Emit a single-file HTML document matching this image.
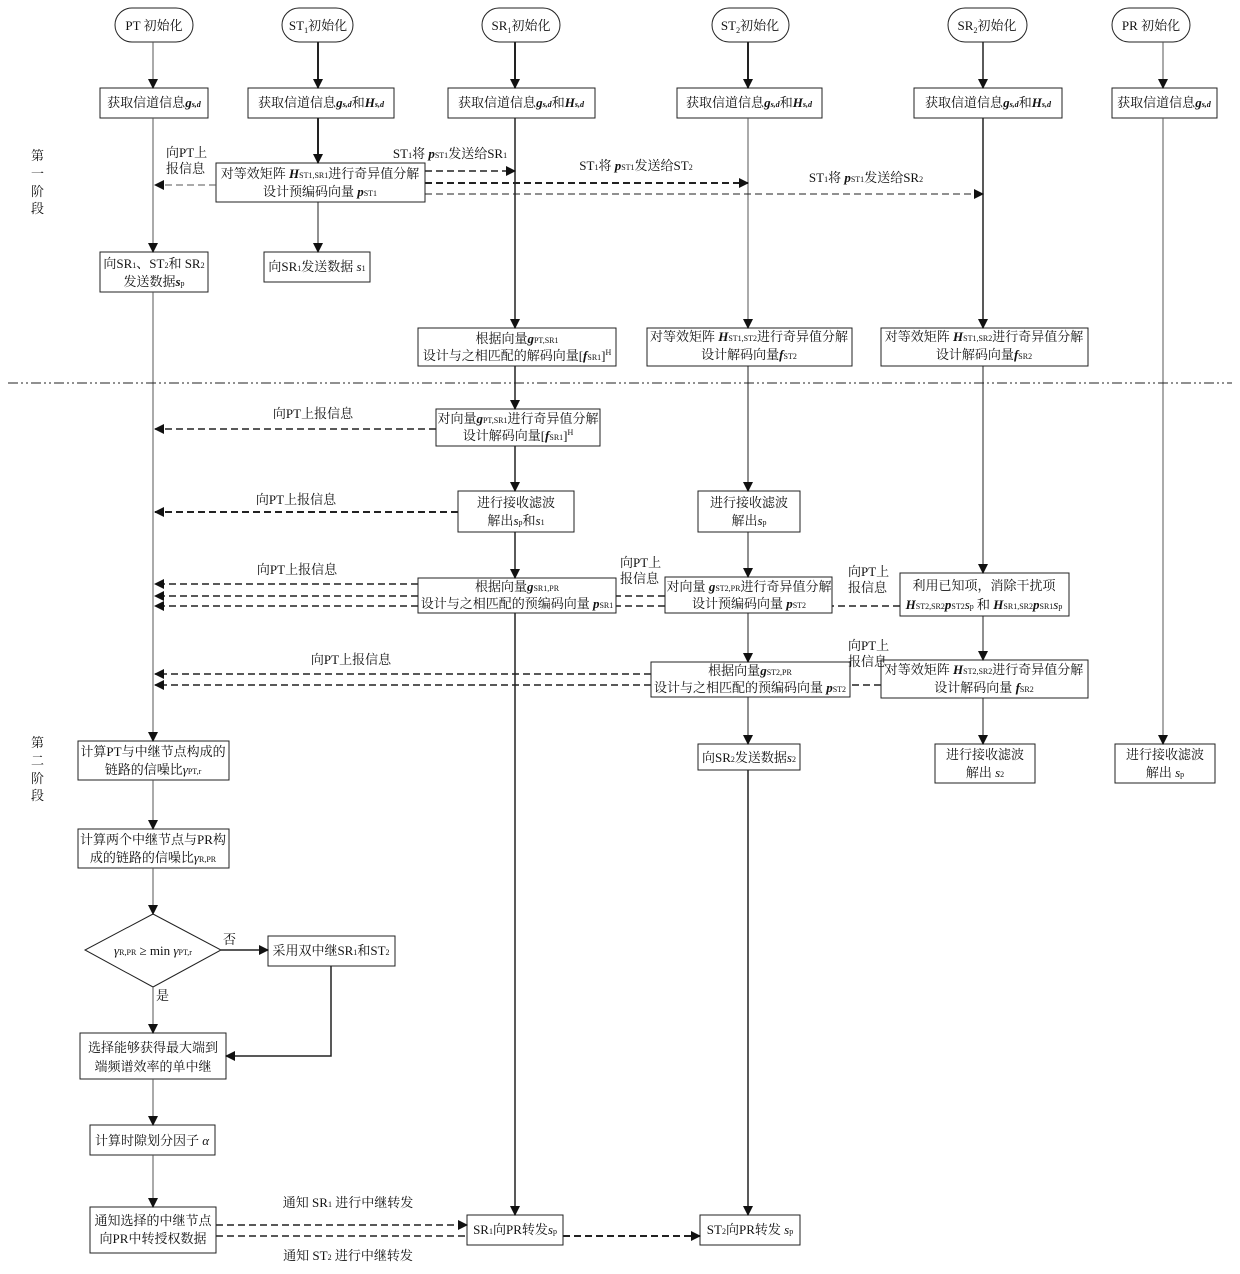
<!DOCTYPE html>
<html><head><meta charset="utf-8"><style>
html,body{margin:0;padding:0;background:#fff}
svg{display:block}
text{font-family:"Liberation Serif","Noto Serif CJK SC","Noto Sans CJK SC",serif;font-size:13px;fill:#111}
.i{font-style:italic;font-weight:bold}
.s{font-size:8px}
</style></head><body>
<svg width="1240" height="1274" viewBox="0 0 1240 1274" xmlns="http://www.w3.org/2000/svg">
<defs>
<marker id="a" markerWidth="10" markerHeight="10" refX="9" refY="5" orient="auto" markerUnits="userSpaceOnUse"><path d="M0,0 L10,5 L0,10 z" fill="#111"/></marker>
</defs>
<g fill="none" stroke="#222" stroke-width="1">
<!-- ovals -->
<rect x="115" y="8" width="78" height="34" rx="17"/>
<rect x="282" y="8" width="71" height="34" rx="17"/>
<rect x="482" y="8" width="78" height="34" rx="17"/>
<rect x="712" y="8" width="77" height="34" rx="17"/>
<rect x="948" y="8" width="79" height="34" rx="17"/>
<rect x="1112" y="8" width="78" height="34" rx="17"/>
<!-- row2 -->
<rect x="100" y="88" width="108" height="30"/>
<rect x="248" y="88" width="146" height="30"/>
<rect x="448" y="88" width="147" height="30"/>
<rect x="677" y="88" width="145" height="30"/>
<rect x="914" y="88" width="148" height="30"/>
<rect x="1112" y="88" width="105" height="30"/>
<rect x="216" y="163" width="209" height="39"/>
<rect x="100" y="252" width="108" height="40"/>
<rect x="264" y="252" width="106" height="30"/>
<rect x="418" y="328" width="198" height="38"/>
<rect x="647" y="328" width="205" height="38"/>
<rect x="881" y="328" width="207" height="38"/>
<rect x="436" y="409" width="164" height="37"/>
<rect x="458" y="491" width="116" height="41"/>
<rect x="698" y="491" width="102" height="41"/>
<rect x="418" y="578" width="198" height="35"/>
<rect x="665" y="577" width="167" height="36"/>
<rect x="900" y="573" width="169" height="43"/>
<rect x="651" y="662" width="199" height="35"/>
<rect x="881" y="660" width="207" height="38"/>
<rect x="698" y="744" width="102" height="26"/>
<rect x="935" y="744" width="100" height="39"/>
<rect x="1115" y="744" width="100" height="39"/>
<rect x="78" y="741" width="151" height="39"/>
<rect x="78" y="829" width="151" height="39"/>
<path d="M153,914 L221,950 L153,987 L85,950 Z"/>
<rect x="268" y="936" width="127" height="30"/>
<rect x="80" y="1033" width="146" height="46"/>
<rect x="90" y="1125" width="125" height="30"/>
<rect x="90" y="1207" width="126" height="46"/>
<rect x="467" y="1215" width="96" height="30"/>
<rect x="700" y="1215" width="100" height="30"/>
</g>
<!-- solid lane arrows -->
<g stroke="#222" fill="none" marker-end="url(#a)">
<path d="M153,42V88" stroke="#555"/>
<path d="M318,42V88" stroke-width="2"/>
<path d="M515,42V88" stroke-width="2"/>
<path d="M748,42V88" stroke-width="2"/>
<path d="M983,42V88" stroke-width="1.5"/>
<path d="M1163,42V88" stroke="#555"/>
<path d="M153,118V252" stroke="#555"/>
<path d="M318,118V163" stroke-width="2"/>
<path d="M318,202V252"/>
<path d="M515,118V328" stroke-width="1.5"/>
<path d="M748,118V328" stroke="#555"/>
<path d="M983,118V328" stroke-width="1.5"/>
<path d="M515,366V409" stroke-width="1.5"/>
<path d="M515,446V491" stroke-width="1.5"/>
<path d="M748,366V491"/>
<path d="M515,532V578" stroke-width="1.5"/>
<path d="M748,532V577"/>
<path d="M983,366V573"/>
<path d="M748,613V662"/>
<path d="M983,616V660"/>
<path d="M748,697V744"/>
<path d="M983,698V744"/>
<path d="M1163,118V744" stroke="#555"/>
<path d="M153,292V741" stroke="#555"/>
<path d="M153,780V829" stroke="#555"/>
<path d="M153,868V914" stroke="#555"/>
<path d="M221,950H268" stroke-width="1.5"/>
<path d="M153,987V1033" stroke="#555"/>
<path d="M331,966V1056H226" stroke-width="1.5"/>
<path d="M153,1079V1125" stroke="#555"/>
<path d="M153,1155V1207" stroke="#555"/>
<path d="M515,613V1215" stroke-width="1.5"/>
<path d="M748,770V1215" stroke-width="1.5"/>
</g>
<!-- dashed arrows -->
<g stroke="#222" fill="none" stroke-dasharray="7,4" marker-end="url(#a)">
<path d="M216,185H155" stroke="#555"/>
<path d="M425,171H515" stroke-width="1.5"/>
<path d="M425,183H748" stroke-width="2"/>
<path d="M425,194H983"/>
<path d="M436,429H155" stroke-width="1.5"/>
<path d="M458,512H155" stroke-width="2"/>
<path d="M418,584H155" stroke-width="1.5"/>
<path d="M418,596H155" stroke-width="1.5"/>
<path d="M418,606H155" stroke-width="1.5"/>
<path d="M651,674H155" stroke-width="1.5"/>
<path d="M651,685H155" stroke-width="1.5"/>
<path d="M216,1225H467" stroke-width="1.5"/>
<path d="M563,1236H700" stroke-width="2"/>
</g>
<g stroke="#222" fill="none" stroke-dasharray="7,4" stroke-width="1.5">
<path d="M665,596H616"/><path d="M665,606H616"/>
<path d="M900,606H832"/>
<path d="M881,685H850"/>
<path d="M216,1236H467"/>
</g>
<path d="M8,383H1232" stroke="#222" stroke-dasharray="10,3,2,3,2,3"/>
<!-- text -->
<g text-anchor="middle">
<text x="154" y="30">PT 初始化</text>
<text x="318" y="30">ST<tspan class="s" dy="3">1</tspan><tspan dy="-3">初始化</tspan></text>
<text x="521" y="30">SR<tspan class="s" dy="3">1</tspan><tspan dy="-3">初始化</tspan></text>
<text x="750" y="30">ST<tspan class="s" dy="3">2</tspan><tspan dy="-3">初始化</tspan></text>
<text x="987" y="30">SR<tspan class="s" dy="3">2</tspan><tspan dy="-3">初始化</tspan></text>
<text x="1151" y="30">PR 初始化</text>
<text x="154" y="107">获取信道信息<tspan class="i">g<tspan class="s">s,d</tspan></tspan></text>
<text x="321" y="107">获取信道信息<tspan class="i">g<tspan class="s">s,d</tspan></tspan>和<tspan class="i">H<tspan class="s">s,d</tspan></tspan></text>
<text x="521" y="107">获取信道信息<tspan class="i">g<tspan class="s">s,d</tspan></tspan>和<tspan class="i">H<tspan class="s">s,d</tspan></tspan></text>
<text x="749" y="107">获取信道信息<tspan class="i">g<tspan class="s">s,d</tspan></tspan>和<tspan class="i">H<tspan class="s">s,d</tspan></tspan></text>
<text x="988" y="107">获取信道信息<tspan class="i">g<tspan class="s">s,d</tspan></tspan>和<tspan class="i">H<tspan class="s">s,d</tspan></tspan></text>
<text x="1164" y="107">获取信道信息<tspan class="i">g<tspan class="s">s,d</tspan></tspan></text>
<text x="320" y="178">对等效矩阵 <tspan class="i">H</tspan><tspan class="s">ST1,SR1</tspan>进行奇异值分解</text>
<text x="320" y="196">设计预编码向量 <tspan class="i">p</tspan><tspan class="s">ST1</tspan></text>
<text x="154" y="268">向SR<tspan class="s">1</tspan>、ST<tspan class="s">2</tspan>和 SR<tspan class="s">2</tspan></text>
<text x="154" y="286">发送数据<tspan class="i">s</tspan><tspan class="s">p</tspan></text>
<text x="317" y="271">向SR<tspan class="s">1</tspan>发送数据 <tspan font-style="italic">s</tspan><tspan class="s">1</tspan></text>
<text x="517" y="343">根据向量<tspan class="i">g</tspan><tspan class="s">PT,SR1</tspan></text>
<text x="517" y="360">设计与之相匹配的解码向量[<tspan class="i">f</tspan><tspan class="s">SR1</tspan>]<tspan class="s" dy="-5">H</tspan></text>
<text x="749" y="341">对等效矩阵 <tspan class="i">H</tspan><tspan class="s">ST1,ST2</tspan>进行奇异值分解</text>
<text x="749" y="359">设计解码向量<tspan class="i">f</tspan><tspan class="s">ST2</tspan></text>
<text x="984" y="341">对等效矩阵 <tspan class="i">H</tspan><tspan class="s">ST1,SR2</tspan>进行奇异值分解</text>
<text x="984" y="359">设计解码向量<tspan class="i">f</tspan><tspan class="s">SR2</tspan></text>
<text x="518" y="423">对向量<tspan class="i">g</tspan><tspan class="s">PT,SR1</tspan>进行奇异值分解</text>
<text x="518" y="440">设计解码向量[<tspan class="i">f</tspan><tspan class="s">SR1</tspan>]<tspan class="s" dy="-5">H</tspan></text>
<text x="516" y="507">进行接收滤波</text>
<text x="516" y="525">解出<tspan font-style="italic">s</tspan><tspan class="s">p</tspan>和<tspan font-style="italic">s</tspan><tspan class="s">1</tspan></text>
<text x="749" y="507">进行接收滤波</text>
<text x="749" y="525">解出<tspan font-style="italic">s</tspan><tspan class="s">p</tspan></text>
<text x="517" y="591">根据向量<tspan class="i">g</tspan><tspan class="s">SR1,PR</tspan></text>
<text x="517" y="608">设计与之相匹配的预编码向量 <tspan class="i">p</tspan><tspan class="s">SR1</tspan></text>
<text x="749" y="591">对向量 <tspan class="i">g</tspan><tspan class="s">ST2,PR</tspan>进行奇异值分解</text>
<text x="749" y="608">设计预编码向量 <tspan class="i">p</tspan><tspan class="s">ST2</tspan></text>
<text x="984" y="590">利用已知项，消除干扰项</text>
<text x="984" y="609"><tspan class="i">H</tspan><tspan class="s">ST2,SR2</tspan><tspan class="i">p</tspan><tspan class="s">ST2</tspan><tspan font-style="italic">s</tspan><tspan class="s">p</tspan> 和 <tspan class="i">H</tspan><tspan class="s">SR1,SR2</tspan><tspan class="i">p</tspan><tspan class="s">SR1</tspan><tspan font-style="italic">s</tspan><tspan class="s">p</tspan></text>
<text x="750" y="675">根据向量<tspan class="i">g</tspan><tspan class="s">ST2,PR</tspan></text>
<text x="750" y="692">设计与之相匹配的预编码向量 <tspan class="i">p</tspan><tspan class="s">ST2</tspan></text>
<text x="984" y="674">对等效矩阵 <tspan class="i">H</tspan><tspan class="s">ST2,SR2</tspan>进行奇异值分解</text>
<text x="984" y="692">设计解码向量 <tspan class="i">f</tspan><tspan class="s">SR2</tspan></text>
<text x="749" y="762">向SR<tspan class="s">2</tspan>发送数据<tspan font-style="italic">s</tspan><tspan class="s">2</tspan></text>
<text x="985" y="759">进行接收滤波</text>
<text x="985" y="777">解出 <tspan font-style="italic">s</tspan><tspan class="s">2</tspan></text>
<text x="1165" y="759">进行接收滤波</text>
<text x="1165" y="777">解出 <tspan font-style="italic">s</tspan><tspan class="s">p</tspan></text>
<text x="153" y="756">计算PT与中继节点构成的</text>
<text x="153" y="774">链路的信噪比<tspan font-style="italic">γ</tspan><tspan class="s">PT,r</tspan></text>
<text x="153" y="844">计算两个中继节点与PR构</text>
<text x="153" y="862">成的链路的信噪比<tspan font-style="italic">γ</tspan><tspan class="s">R,PR</tspan></text>
<text x="153" y="955"><tspan font-style="italic">γ</tspan><tspan class="s">R,PR</tspan> ≥ min <tspan font-style="italic">γ</tspan><tspan class="s">PT,r</tspan></text>
<text x="331" y="955">采用双中继SR<tspan class="s">1</tspan>和ST<tspan class="s">2</tspan></text>
<text x="153" y="1052">选择能够获得最大端到</text>
<text x="153" y="1071">端频谱效率的单中继</text>
<text x="152" y="1145">计算时隙划分因子 <tspan font-style="italic">α</tspan></text>
<text x="153" y="1225">通知选择的中继节点</text>
<text x="153" y="1243">向PR中转授权数据</text>
<text x="515" y="1234">SR<tspan class="s">1</tspan>向PR转发<tspan font-style="italic">s</tspan><tspan class="s">p</tspan></text>
<text x="750" y="1234">ST<tspan class="s">2</tspan>向PR转发 <tspan font-style="italic">s</tspan><tspan class="s">p</tspan></text>
<text x="313" y="418">向PT上报信息</text>
<text x="296" y="504">向PT上报信息</text>
<text x="297" y="574">向PT上报信息</text>
<text x="351" y="664">向PT上报信息</text>
<text x="348" y="1207">通知 SR<tspan class="s">1</tspan> 进行中继转发</text>
<text x="348" y="1260">通知 ST<tspan class="s">2</tspan> 进行中继转发</text>
<text x="450" y="158">ST<tspan class="s">1</tspan>将 <tspan class="i">p</tspan><tspan class="s">ST1</tspan>发送给SR<tspan class="s">1</tspan></text>
<text x="636" y="170">ST<tspan class="s">1</tspan>将 <tspan class="i">p</tspan><tspan class="s">ST1</tspan>发送给ST<tspan class="s">2</tspan></text>
<text x="866" y="182">ST<tspan class="s">1</tspan>将 <tspan class="i">p</tspan><tspan class="s">ST1</tspan>发送给SR<tspan class="s">2</tspan></text>
</g>
<g>
<text x="166" y="157">向PT上</text><text x="166" y="173">报信息</text>
<text x="620" y="567">向PT上</text><text x="620" y="583">报信息</text>
<text x="848" y="576">向PT上</text><text x="848" y="592">报信息</text>
<text x="848" y="650">向PT上</text><text x="848" y="666">报信息</text>
<text x="223" y="944">否</text>
<text x="156" y="1000">是</text>
<text x="31" y="160">第</text><text x="31" y="178">一</text><text x="31" y="196">阶</text><text x="31" y="213">段</text>
<text x="31" y="747">第</text><text x="31" y="765">二</text><text x="31" y="783">阶</text><text x="31" y="800">段</text>
</g>
</svg>
</body></html>
